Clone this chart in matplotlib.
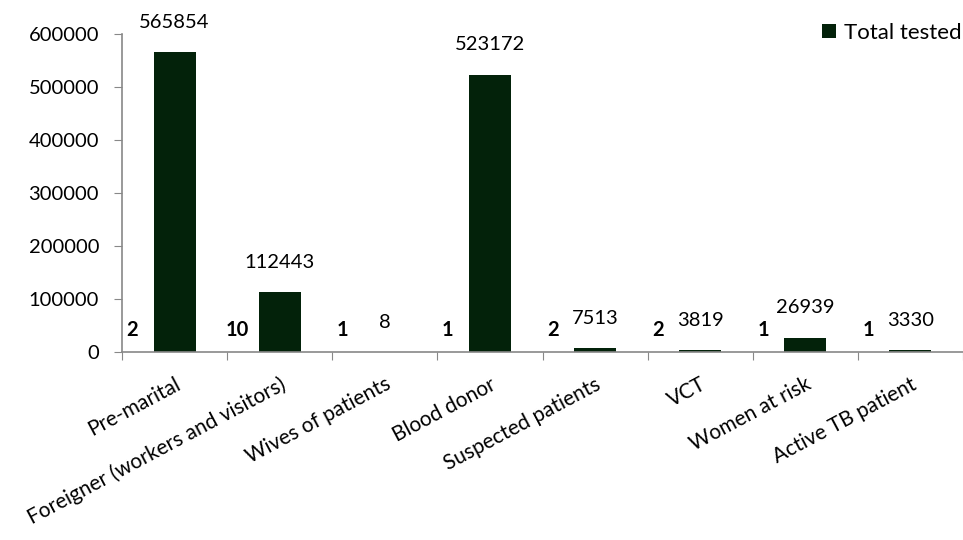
import matplotlib
matplotlib.use("Agg")
import matplotlib.pyplot as plt
import numpy as np

categories = ["Pre-marital", "Foreigner (workers and visitors)", "Wives of patients",
              "Blood donor", "Suspected patients", "VCT", "Women at risk", "Active TB patient"]
positive = [2, 10, 1, 1, 2, 2, 1, 1]
total_tested = [565854, 112443, 8, 523172, 7513, 3819, 26939, 3330]
yticks = [0, 100000, 200000, 300000, 400000, 500000, 600000]

plt.rcParams['font.family'] = ['Lato', 'DejaVu Sans']
FS = 14.5
bar_color = '#03220A'
axis_color = '#888888'

fig = plt.figure(figsize=(9.63, 5.4), dpi=100)
ax = fig.add_axes([122/963, 1-352/540, (963-122)/963, (352-34)/540])

x = np.arange(len(categories))
w = 0.4
pos_bars = ax.bar(x - w, positive, width=w, color='none', label='_nolegend_')
tot_bars = ax.bar(x, total_tested, width=w, color=bar_color, label='Total tested')

for xi, v in zip(x, positive):
    ax.annotate(str(v), (xi - w, v), xytext=(0, 16), textcoords='offset points',
                ha='center', va='center', fontsize=FS, fontweight='bold', color='black')
for xi, v in zip(x, total_tested):
    ax.annotate(str(v), (xi, v), xytext=(0, 21.5), textcoords='offset points',
                ha='center', va='center', fontsize=FS, color='black')

ax.set_ylim(0, 600000)
ax.set_yticks(yticks)
ax.set_yticklabels([str(t) for t in yticks], fontsize=FS)
ax.set_xlim(-0.5, -0.5 + (963-122)/106.5)

ax.set_xticks(np.arange(len(categories) + 1) - 0.5, minor=False)
ax.set_xticklabels([])
ax.set_xticks(x, minor=True)
ax.set_xticklabels(categories, minor=True, rotation=28, ha='right', rotation_mode='anchor',
                   fontsize=15)
ax.tick_params(axis='x', which='minor', length=0, pad=16)
ax.tick_params(axis='x', which='major', length=6, color=axis_color, direction='out')
ax.tick_params(axis='y', length=6, color=axis_color, pad=10.5, direction='out')

for s in ['top', 'right']:
    ax.spines[s].set_visible(False)
for s in ['left', 'bottom']:
    ax.spines[s].set_color(axis_color)
    ax.spines[s].set_linewidth(1.2)

leg = fig.legend(handles=[tot_bars], labels=['Total tested'], loc='upper right',
                 bbox_to_anchor=(0.999, 0.957), frameon=False, fontsize=16,
                 handlelength=0.6, handleheight=0.6, handletextpad=0.4,
                 borderaxespad=0.0, borderpad=0.0)

fig.savefig('out.png', dpi=100)
